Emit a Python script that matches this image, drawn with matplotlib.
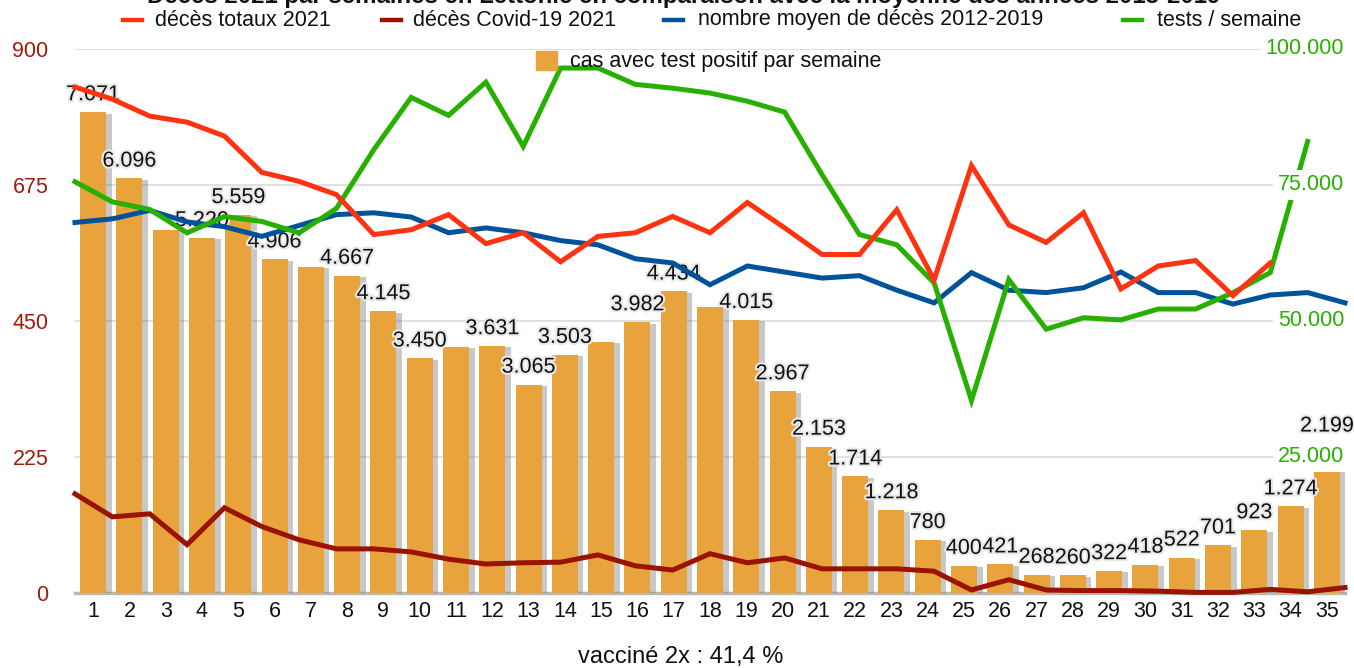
import matplotlib
matplotlib.use("Agg")
import matplotlib.pyplot as plt
from matplotlib.lines import Line2D
from matplotlib.patches import Rectangle
import matplotlib.patheffects as pe
from matplotlib.transforms import blended_transform_factory

plt.rcParams['font.family'] = ['Liberation Sans', 'DejaVu Sans']

# ---------------- data ----------------
weeks = list(range(1, 36))
cases = [7071, 6096, 5343, 5220, 5559, 4906, 4797, 4667, 4145, 3450, 3617, 3631,
         3065, 3503, 3690, 3982, 4434, 4207, 4015, 2967, 2153, 1714, 1218, 780,
         400, 421, 268, 260, 322, 418, 522, 701, 923, 1274, 2199]
case_label_shown = [1, 1, 0, 1, 1, 1, 0, 1, 1, 1, 0, 1, 1, 1, 0, 1, 1, 0, 1, 1, 1,
                    1, 1, 1, 1, 1, 1, 1, 1, 1, 1, 1, 1, 1, 1]
deaths_total = [837, 817, 789, 779, 756, 696, 681, 659, 593, 601, 626, 578, 596,
                548, 590, 596, 623, 596, 646, 604, 560, 560, 634, 518, 707, 609,
                580, 629, 503, 541, 550, 492, 546]
deaths_covid = [164, 126, 131, 80, 141, 110, 88, 73, 73, 68, 56, 48, 50, 51, 63,
                45, 38, 65, 50, 58, 40, 40, 40, 36, 5, 22, 5, 4, 4, 3, 1, 1, 6, 2, 9]
deaths_avg = [613, 619, 633, 614, 606, 590, 608, 626, 629, 622, 596, 604, 596, 583,
              576, 553, 546, 510, 541, 531, 521, 525, 501, 480, 530, 501, 497, 505,
              531, 497, 497, 478, 493, 497, 480]
tests = [75600, 71900, 70500, 66200, 69200, 68300, 66200, 70700, 81500, 91100,
         87800, 93900, 82100, 96500, 96500, 93500, 92800, 91900, 90400, 88400,
         76900, 65900, 64000, 57000, 35400, 57600, 48500, 50600, 50200, 52200,
         52200, 55200, 58900, 83000]
left_ticks = [0, 225, 450, 675, 900]
right_ticks = [25000, 50000, 75000, 100000]

title = "Décès 2021 par semaines en Lettonie en comparaison avec la moyenne des années 2015-2019"
legend_row1 = ["décès totaux 2021", "décès Covid-19 2021",
               "nombre moyen de décès 2012-2019", "tests / semaine"]
legend_row2 = "cas avec test positif par semaine"
caption = "vacciné 2x : 41,4 %"

# ---------------- style ----------------
C_RED = "#ff3311"
C_DRED = "#9a1200"
C_BLUE = "#00539a"
C_GREEN = "#27b000"
C_BAR = "#e8a33d"
C_LTICK = "#a01c0c"
FS = 15.5


def fmt(v):
    return f"{v:,}".replace(",", ".")


W, H = 1354, 668
fig = plt.figure(figsize=(W / 100, H / 100), dpi=100)
pos = [75 / W, 1 - 593 / H, (1345 - 75) / W, (593 - 49) / H]

# main axis: ticks, grid
ax = fig.add_axes(pos)
ax.set_xlim(0.5, 35.5)
ax.set_ylim(0, 900)
ax.set_yticks(left_ticks)
ax.set_yticklabels([str(t) for t in left_ticks], color=C_LTICK, fontsize=FS)
ax.set_xticks(weeks)
ax.set_xticklabels([str(w) for w in weeks], fontsize=FS, color="#111111")
ax.tick_params(axis='both', length=0)
ax.tick_params(axis='x', pad=6)
ax.tick_params(axis='y', pad=19)
ax.grid(axis='y', color='#dddddd', lw=1.3)
ax.set_axisbelow(True)
for s in ['top', 'right', 'left']:
    ax.spines[s].set_visible(False)
ax.spines['bottom'].set_color('#b8b8b8')
ax.spines['bottom'].set_linewidth(2.5)

# bars (hidden scale)
axb = fig.add_axes(pos, frameon=False)
axb.set_xlim(0.5, 35.5)
axb.set_ylim(0, 8000)
axb.axis('off')
axb.bar(weeks, cases, width=0.72, color=C_BAR, zorder=2,
        path_effects=[pe.SimplePatchShadow(offset=(4, -1), shadow_rgbFace='#777777', alpha=0.4),
                      pe.Normal()])
for w, c, show in zip(weeks, cases, case_label_shown):
    if show:
        axb.annotate(fmt(c), (w, c), xytext=(0, 5), textcoords='offset points',
                     ha='center', va='bottom', fontsize=FS, color='#111111', zorder=3,
                     path_effects=[pe.withStroke(linewidth=3, foreground='#e8e8e8')])

# blue + dark red lines
axd = fig.add_axes(pos, frameon=False)
axd.set_xlim(1, 35)
axd.set_ylim(0, 900)
axd.axis('off')
axd.plot(weeks[:len(deaths_avg)], deaths_avg, color=C_BLUE, lw=3.6,
         solid_joinstyle='miter', clip_on=False)
axd.plot(weeks[:len(deaths_covid)], deaths_covid, color=C_DRED, lw=3.6,
         solid_joinstyle='miter', clip_on=False)

# green line (tests, right scale)
axg = fig.add_axes(pos, frameon=False)
axg.set_xlim(1, 35)
axg.set_ylim(0, 100000)
axg.axis('off')
axg.plot(weeks[:len(tests)], tests, color=C_GREEN, lw=3.6,
         solid_joinstyle='miter', clip_on=False)

# red line (total deaths)
axr = fig.add_axes(pos, frameon=False)
axr.set_xlim(1, 35)
axr.set_ylim(0, 900)
axr.axis('off')
axr.plot(weeks[:len(deaths_total)], deaths_total, color=C_RED, lw=3.6,
         solid_joinstyle='miter', clip_on=False)

# right axis labels (inside, on top, white background)
tr = blended_transform_factory(axr.transAxes, axg.transData)
for t in right_ticks:
    axr.text(0.9995, t, fmt(t), transform=tr, ha='right', va='center',
             fontsize=FS, color=C_GREEN, zorder=10,
             bbox=dict(facecolor='white', edgecolor='none', pad=3.5))

# legend (manual)
row1_y = 1 - 20 / H
dash_x = [123, 382, 664, 1123]
text_x = [155, 413, 698, 1157]
colors = [C_RED, C_DRED, C_BLUE, C_GREEN]
for dx, tx, col, lab in zip(dash_x, text_x, colors, legend_row1):
    fig.add_artist(Line2D([dx / W, (dx + 19) / W], [row1_y, row1_y], color=col, lw=3.2))
    fig.text(tx / W, row1_y, lab, ha='left', va='center', fontsize=FS, color='#111111')
row2_y = 1 - 61 / H
fig.add_artist(Rectangle((536 / W, 1 - 70 / H), 21 / W, 19 / H, color=C_BAR,
                         transform=fig.transFigure))
fig.text(570 / W, row2_y, legend_row2, ha='left', va='center', fontsize=FS, color='#111111')

# title (cut at top) and caption
fig.text(684 / W, 1 - 3 / H, title, ha='center', va='baseline', fontsize=17.3,
         fontweight='bold', color='#111111')
fig.text(681 / W, 1 - 657 / H, caption, ha='center', va='center', fontsize=17,
         color='#111111')

fig.savefig("out.png", dpi=100)
